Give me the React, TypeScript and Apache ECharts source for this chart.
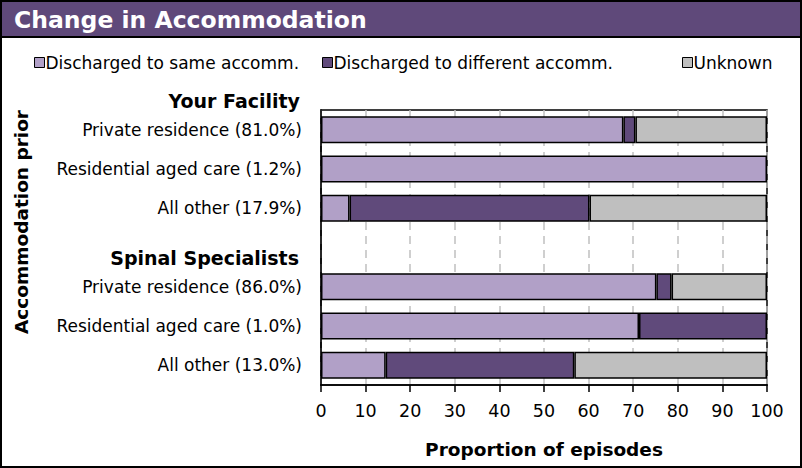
import React, { useEffect, useRef } from "react";
import * as echarts from "echarts";

const categories = [
  "Private residence (81.0%)",
  "Residential aged care (1.2%)",
  "All other (17.9%)",
  "Spinal Specialists",
  "Private residence (86.0%)",
  "Residential aged care (1.0%)",
  "All other (13.0%)",
];
const headerCategory = "Spinal Specialists";
const topHeader = "Your Facility";
const yAxisTitle = "Accommodation prior";
const seriesNames = ["Discharged to same accomm.", "Discharged to different accomm.", "Unknown"];
const sameValues = [67.8, 100, 6.4, null, 75.2, 71.3, 14.5];
const differentValues = [2.7, 0, 53.8, null, 3.4, 28.7, 42.3];
const unknownValues = [29.5, 0, 39.8, null, 21.4, 0, 43.2];
const xTicks = [0, 10, 20, 30, 40, 50, 60, 70, 80, 90, 100];
const colors = ["#b1a0c7", "#604a7b", "#bfbfbf"];
const legendLefts = [29, 317, 677];

const FONT = "DejaVu Sans";

export default function App() {
  const ref = useRef<HTMLDivElement>(null);
  useEffect(() => {
    document.body.style.margin = "0";
    if (!ref.current) return;
    const chart = echarts.init(ref.current, undefined, { renderer: "svg" });
    const clean = (arr: (number | null)[]) => arr.map((v) => (v === null || v === 0 ? "-" : v));
    const allSeries = [sameValues, differentValues, unknownValues].map((vals, i) => ({
      name: seriesNames[i],
      type: "bar",
      stack: "total",
      barWidth: 27,
      data: clean(vals),
      itemStyle: { color: colors[i], borderColor: "#000", borderWidth: 1.5 },
    }));
    const legends = seriesNames.map((n, i) => ({
      data: [n],
      top: 49,
      left: legendLefts[i],
      icon: "rect",
      itemWidth: 10,
      itemHeight: 10,
      textStyle: { fontSize: 17, color: "#000", fontFamily: FONT, padding: [0, 0, 0, -4] },
      itemStyle: { borderColor: "#000", borderWidth: 1 },
    }));
    chart.setOption({
      animation: false,
      textStyle: { fontFamily: FONT },
      title: {
        text: "Change in Accommodation",
        left: 9,
        top: 3,
        textStyle: { color: "#fff", fontSize: 23.5, fontWeight: "bold", fontFamily: FONT },
      },
      legend: legends,
      grid: {
        left: 321,
        right: 35,
        top: 110,
        bottom: 83,
        show: true,
        borderColor: "#000",
        borderWidth: 1.5,
        containLabel: false,
      },
      xAxis: {
        type: "value",
        min: xTicks[0],
        max: xTicks[xTicks.length - 1],
        interval: 10,
        name: "Proportion of episodes",
        nameLocation: "middle",
        nameGap: 55,
        nameTextStyle: { fontSize: 18.5, fontWeight: "bold", color: "#000", fontFamily: FONT },
        axisLine: { show: true, lineStyle: { color: "#000", width: 1.5 } },
        axisTick: { show: true, length: 7, lineStyle: { color: "#000", width: 1.5 } },
        axisLabel: { fontSize: 17.5, color: "#000", margin: 17, fontFamily: FONT },
        splitLine: { show: true, lineStyle: { color: "#c0c0c0", type: [8, 6], width: 1.5 } },
      },
      yAxis: {
        type: "category",
        data: categories,
        inverse: true,
        axisLine: { show: true, lineStyle: { color: "#000", width: 1.5 } },
        axisTick: { show: false },
        axisLabel: {
          fontSize: 17,
          color: "#000",
          margin: 19,
          fontFamily: FONT,
          formatter: (v: string) => (v === headerCategory ? `{h|${v}}` : v),
          rich: {
            h: { fontSize: 19, fontWeight: "bold", color: "#000", fontFamily: FONT, padding: [20, 3, 0, 0] },
          },
        },
      },
      graphic: [
        { type: "rect", shape: { x: 0, y: 0, width: 802, height: 37 }, style: { fill: "#5f497a" }, z: -1 },
        { type: "line", shape: { x1: 0, y1: 37, x2: 802, y2: 37 }, style: { stroke: "#000", lineWidth: 2 } },
        {
          type: "text",
          x: 300,
          y: 101,
          style: {
            text: topHeader,
            fontSize: 19,
            fontWeight: "bold",
            fill: "#000",
            fontFamily: FONT,
            align: "right",
            verticalAlign: "middle",
          },
        },
        {
          type: "text",
          x: 21,
          y: 222,
          rotation: Math.PI / 2,
          style: {
            text: yAxisTitle,
            fontSize: 18.5,
            fontWeight: "bold",
            fill: "#000",
            fontFamily: FONT,
            align: "center",
            verticalAlign: "middle",
          },
        },
        {
          type: "rect",
          shape: { x: 1, y: 1, width: 800, height: 466 },
          style: { fill: "none", stroke: "#000", lineWidth: 2 },
          z: 100,
        },
      ],
      series: allSeries,
    });
    return () => chart.dispose();
  }, []);
  return <div ref={ref} style={{ width: 802, height: 468 }} />;
}
